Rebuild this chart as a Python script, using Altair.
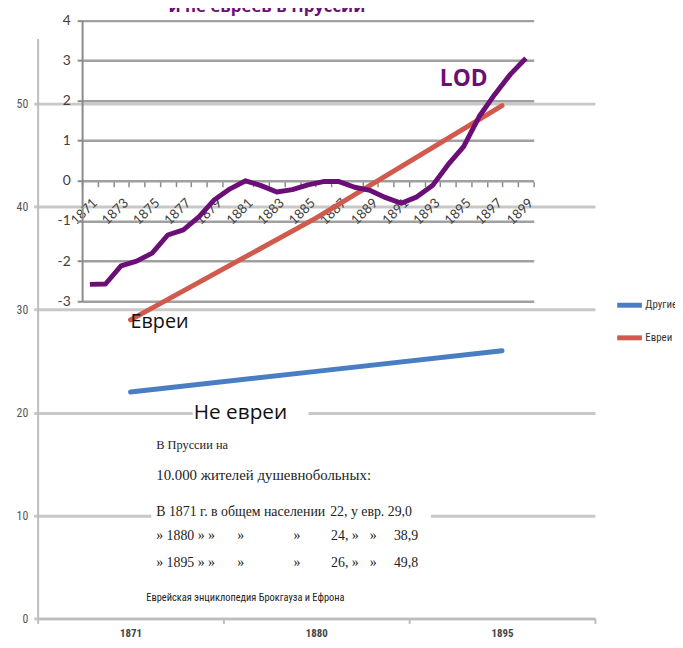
import altair as alt
import pandas as pd

# ---------------- data ----------------
bg_years = ["1871", "1880", "1895"]
others = [22, 24, 26]          # Другие (не евреи)
jews = [29.0, 38.9, 49.8]      # Евреи
series_names = ["Другие", "Евреи"]

lod_years = [str(y) for y in range(1871, 1900)]
lod_values = [-2.58, -2.57, -2.12, -2.0, -1.8, -1.35, -1.22, -0.9, -0.47, -0.2,
              0.0, -0.12, -0.28, -0.22, -0.1, -0.02, -0.02, -0.16, -0.24, -0.42,
              -0.56, -0.4, -0.12, 0.4, 0.85, 1.6, 2.15, 2.65, 3.05]

bg_df = pd.DataFrame({
    "year": bg_years * 2,
    "series": [series_names[0]] * 3 + [series_names[1]] * 3,
    "value": others + jews,
})
lod_df = pd.DataFrame({"year": lod_years, "lod": lod_values})

BLUE = "#4a7ec2"
RED = "#d05a4e"
PURPLE = "#6b0f76"
NARROW = "Liberation Sans Narrow, Roboto Condensed, DejaVu Sans Condensed, Liberation Sans"
SERIF = "Liberation Serif, DejaVu Serif"
SANS = "Open Sans"

W, H = 564, 587

# ---------------- background chart ----------------
bg = alt.Chart(bg_df).mark_line(strokeWidth=5, strokeCap="round").encode(
    x=alt.X("year:O", bandPosition=0.5,
            scale=alt.Scale(type="band", domain=bg_years, paddingInner=0, paddingOuter=0),
            axis=alt.Axis(title=None, orient="bottom", tickBand="extent", grid=False,
                          labelAngle=0, labelFont=NARROW, labelFontSize=11, labelFontWeight="bold",
                          labelColor="#444", labelPadding=4, domainColor="#bdbdbd", domainWidth=2,
                          tickColor="#bdbdbd", tickWidth=2, tickSize=5)),
    y=alt.Y("value:Q", scale=alt.Scale(domain=[0, 56.33], nice=False, zero=True),
            axis=alt.Axis(title=None, orient="left", values=[0, 10, 20, 30, 40, 50],
                          grid=True, gridColor="#c8c8c8", gridWidth=3,
                          domainColor="#bdbdbd", domainWidth=2, tickColor="#c8c8c8",
                          tickWidth=3, tickSize=4, labelFont=NARROW, labelFontSize=12,
                          labelColor="#555", labelPadding=6)),
    color=alt.Color("series:N", scale=alt.Scale(domain=series_names, range=[BLUE, RED]),
                    legend=alt.Legend(title=None, orient="none", legendX=584, legendY=255,
                                      symbolType="stroke", symbolStrokeWidth=5, symbolSize=625,
                                      labelFont=NARROW, labelFontSize=11, labelColor="#333",
                                      labelOffset=1, rowPadding=8)),
)

# ---------------- foreground LOD chart ----------------
fg = alt.Chart(lod_df).mark_line(strokeWidth=5, color=PURPLE, strokeJoin="round").encode(
    x=alt.X("year:O", bandPosition=0.5,
            scale=alt.Scale(type="band", domain=lod_years, range=[45, 502],
                            paddingInner=0, paddingOuter=0),
            axis=alt.Axis(title=None, orient="bottom", offset=-442, tickBand="extent",
                          grid=False, domain=False, labelAngle=-45,
                          labelExpr="toNumber(datum.value) % 2 == 1 ? datum.value : ''",
                          labelFont="Lato", labelFontSize=13.5, labelColor="#404040",
                          labelPadding=9, tickColor="#8a8a8a", tickWidth=1.5, tickSize=5)),
    y=alt.Y("lod:Q", scale=alt.Scale(domain=[-3, 4], range=[266, -18.5], nice=False, zero=False),
            axis=alt.Axis(title=None, orient="left", offset=-45, values=list(range(-3, 5)),
                          labelExpr="datum.value + ''", grid=True, gridColor="#a0a0a0",
                          gridWidth=2.5, domainColor="#8a8a8a", domainWidth=2,
                          tickColor="#8a8a8a", tickWidth=2, tickSize=5,
                          labelFont="Lato", labelFontSize=14, labelColor="#404040",
                          labelPadding=7)),
)

# ---------------- annotations ----------------
one = pd.DataFrame({"k": [0]})


def label(txt, x, y, size, font=SANS, weight="normal", color="#111", align="left"):
    return alt.Chart(one).mark_text(
        align=align, baseline="alphabetic", fontSize=size, font=font,
        fontWeight=weight, color=color,
    ).encode(x=alt.value(x), y=alt.value(y), text=alt.value(txt))


def box(x, x2, y, y2):
    return alt.Chart(one).mark_rect(color="white").encode(
        x=alt.value(x), x2=alt.value(x2), y=alt.value(y), y2=alt.value(y2))


fmt = lambda v: f"{v:.1f}".replace(".", ",")
TXT = "#222"
FS = 14

layers = [
    bg,
    box(157, 274, 367, 389),
    box(115, 398, 400, 550),
    fg,
    label("и не евреев в Пруссии", 232, -27, 17, weight="bold", color=PURPLE, align="center"),
    label("LOD", 407, 48, 23, weight="bold", color=PURPLE),
    label("Евреи", 94, 293, 20),
    label("Не евреи", 158, 385, 21),
    label("В Пруссии на", 120, 416, 12.5, font=SERIF, color=TXT),
    label("10.000 жителей душевнобольных:", 120, 447, 15, font=SERIF, color=TXT),
    label("В 1871 г. в общем населении", 120, 483, FS, font=SERIF, color=TXT),
    label(f"{others[0]}, у евр. {fmt(jews[0])}", 296, 483, FS, font=SERIF, color=TXT),
]
for i, row_y in [(1, 508), (2, 535)]:
    layers += [
        label(f"» {bg_years[i]} » »", 120, row_y, FS, font=SERIF, color=TXT),
        label("»", 202, row_y, FS, font=SERIF, color=TXT),
        label("»", 259, row_y, FS, font=SERIF, color=TXT),
        label(f"{others[i]}, »", 297, row_y, FS, font=SERIF, color=TXT),
        label("»", 336, row_y, FS, font=SERIF, color=TXT),
        label(fmt(jews[i]), 385, row_y, FS, font=SERIF, color=TXT, align="right"),
    ]
layers.append(label("Еврейская энциклопедия Брокгауза и Ефрона", 110, 569, 10.5,
                    font=NARROW, color=TXT))

chart = alt.layer(*layers).resolve_scale(
    x="independent", y="independent"
).resolve_axis(
    x="independent", y="independent"
).properties(
    width=W, height=H,
    autosize=alt.AutoSizeParams(type="none"),
    padding={"left": 30, "top": 27, "right": 81, "bottom": 18},
).configure_view(stroke=None)

chart.save("out.html", embed_options={"renderer": "svg", "actions": False})
